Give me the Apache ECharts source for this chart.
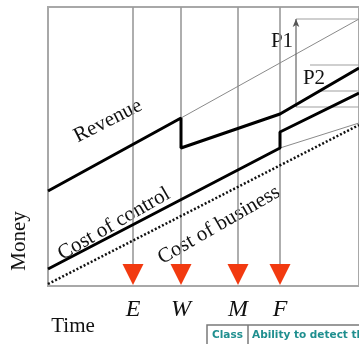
<!DOCTYPE html>
<html>
<head>
<meta charset="utf-8">
<script src="https://cdn.jsdelivr.net/npm/echarts@6/dist/echarts.min.js"></script>
<style>html,body{margin:0;padding:0;background:#fff}#c{width:359px;height:344px}</style>
</head>
<body>
<div id="c"></div>
<script>
// Abstract units: time 0..311, money 0..279
const eventNames = ['E', 'W', 'M', 'F'];
const eventTimes = [85, 133, 190, 232];
const revenue = [[0, 95], [133, 168], [133, 138], [232, 172], [311, 218]];
const revenueTrend = [[133, 168], [311, 267]];
const costControl = [[0, 17], [232, 138], [232, 154], [311, 193]];
const controlTrend = [[232, 138], [311, 163]];
const costBusiness = [[0, 2], [311, 161]];
const p1Arrow = [[248, 179], [248, 267]];
const bracketY = [267, 221, 195, 179];
const bracketFrom = [248, 262, 270, 248];
const timeMax = 311, moneyMax = 279;
const markerLevel = 11.5, lineBottom = 22;

const chart = echarts.init(document.getElementById('c'));
const serif = '"Liberation Serif", "DejaVu Serif", serif';
const series = [];
// event vertical lines
eventTimes.forEach(t => series.push({
  type: 'line', data: [[t, lineBottom], [t, moneyMax]], symbol: 'none', silent: true,
  lineStyle: { color: '#9a9a9a', width: 1.6 }, z: 1
}));
// bracket horizontal lines
bracketY.forEach((y, i) => series.push({
  type: 'line', data: [[bracketFrom[i], y], [timeMax, y]], symbol: 'none', silent: true,
  lineStyle: { color: '#a0a0a0', width: 1.2 }, z: 1
}));
// thin trend lines
[revenueTrend, controlTrend].forEach(d => series.push({
  type: 'line', data: d, symbol: 'none', silent: true,
  lineStyle: { color: '#8a8a8a', width: 1 }, z: 2
}));
// P1 arrow
series.push({
  type: 'line', silent: true,
  data: [{ value: p1Arrow[0], symbol: 'none' }, { value: p1Arrow[1], symbol: 'arrow', symbolSize: [5, 8] }],
  showSymbol: true, itemStyle: { color: '#555', opacity: 1 },
  lineStyle: { color: '#666', width: 1.2 }, z: 3
});
// main curves
series.push({ type: 'line', name: 'Revenue', data: revenue, symbol: 'none', lineStyle: { color: '#000', width: 3 }, z: 4 });
series.push({ type: 'line', name: 'Cost of control', data: costControl, symbol: 'none', lineStyle: { color: '#000', width: 3 }, z: 4 });
series.push({ type: 'line', name: 'Cost of business', data: costBusiness, symbol: 'none', lineStyle: { color: '#111', width: 2.5, type: [2, 2] }, z: 4 });
// event markers
series.push({
  type: 'scatter', data: eventTimes.map((t, i) => ({ value: [t, markerLevel], name: eventNames[i] })),
  symbol: 'triangle', symbolRotate: 180, symbolSize: [21, 21],
  itemStyle: { color: '#f23a10', opacity: 1 }, z: 5,
  label: { show: true, position: 'bottom', distance: 13, formatter: p => p.name,
    fontFamily: serif, fontStyle: 'italic', fontSize: 24, color: '#111' }
});

const text = (t, x, y, rotDeg, size, extra) => Object.assign({
  type: 'text', x: x, y: y, rotation: rotDeg * Math.PI / 180,
  style: { text: t, align: 'center', verticalAlign: 'middle', fontFamily: serif, fontSize: size, fill: '#111' }
}, extra || {});

chart.setOption({
  animation: false,
  grid: { left: 48, top: 7, right: -4, bottom: 58, show: true, borderColor: '#a8a8a8', borderWidth: 2 },
  xAxis: { type: 'value', min: 0, max: timeMax, axisLine: { show: true, lineStyle: { color: '#a8a8a8', width: 2 } },
    axisTick: { show: false }, axisLabel: { show: false }, splitLine: { show: false } },
  yAxis: { type: 'value', min: 0, max: moneyMax, axisLine: { show: true, lineStyle: { color: '#a8a8a8', width: 2 } },
    axisTick: { show: false }, axisLabel: { show: false }, splitLine: { show: false } },
  series: series,
  graphic: [
    text('Revenue', 108, 121, 27, 21),
    text('Cost of control', 114, 224, 30, 21),
    text('Cost of business', 219, 225, 30, 21),
    text('P1', 282, 41, 0, 21),
    text('P2', 314, 78, 0, 21),
    text('Money', 19, 241, 90, 21),
    text('Time', 73, 326, 0, 21),
    { type: 'rect', shape: { x: 207, y: 325, width: 160, height: 30 }, style: { fill: '#fff', stroke: '#7a7a7a', lineWidth: 1.5 } },
    { type: 'line', shape: { x1: 248, y1: 325, x2: 248, y2: 344 }, style: { stroke: '#7a7a7a', lineWidth: 1.5 } },
    { type: 'text', x: 212, y: 335, style: { text: 'Class', align: 'left', verticalAlign: 'middle', fontFamily: '"DejaVu Sans", sans-serif', fontWeight: 'bold', fontSize: 10.5, fill: '#1f8f8f' } },
    { type: 'text', x: 252, y: 335, style: { text: 'Ability to detect the', align: 'left', verticalAlign: 'middle', fontFamily: '"DejaVu Sans", sans-serif', fontWeight: 'bold', fontSize: 10.5, fill: '#1f8f8f' } }
  ]
});
</script>
</body>
</html>
